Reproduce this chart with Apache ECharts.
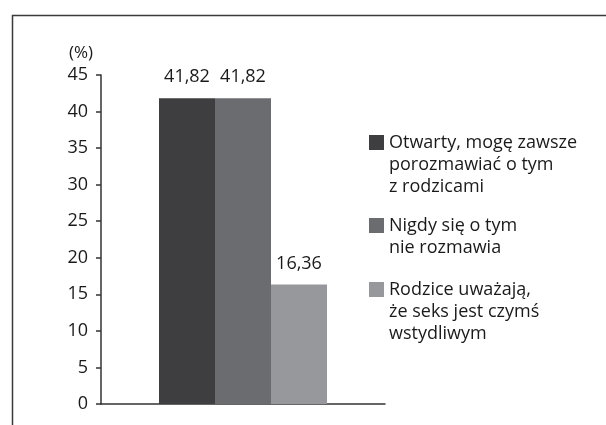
<!DOCTYPE html>
<html>
<head>
<meta charset="utf-8">
<script src="https://cdn.jsdelivr.net/npm/echarts@6/dist/echarts.min.js"></script>
<style>
  html, body { margin: 0; padding: 0; background: #fff; }
  #chart-main { width: 606px; height: 425px; }
</style>
</head>
<body>
<div id="chart-main"></div>
<script>
// dane
const seriesNames = [
  'Otwarty, mogę zawsze\nporozmawiać o tym\nz rodzicami',
  'Nigdy się o tym\nnie rozmawia',
  'Rodzice uważają,\nże seks jest czymś\nwstydliwym'
]
const seriesValues = [41.82, 41.82, 16.36]
const barColors = ['#3e3e40', '#6b6c70', '#97989c']
const categories = ['']

const font = 'Open Sans'
const lineH = 22
const legendTops = [87.5, 192.5, 234.5]

const chart = echarts.init(document.getElementById('chart-main'))

// jedna legenda na pozycję; puste linie na górze, żeby ikona stała przy pierwszej linii tekstu
const legends = seriesNames.map((name, i) => {
  const lines = name.split('\n').length
  return {
    orient: 'vertical',
    left: 369,
    top: legendTops[i],
    padding: 0,
    itemWidth: 15,
    itemHeight: 15,
    icon: 'rect',
    selectedMode: false,
    data: [name],
    formatter: (n) => ' \n'.repeat(lines - 1) + n,
    textStyle: {
      fontFamily: font,
      fontSize: 18,
      color: '#1a1a1a',
      lineHeight: lineH
    }
  }
})

chart.setOption({
  animation: false,
  textStyle: { fontFamily: font },
  graphic: [{
    type: 'rect',
    shape: { x: 12.5, y: 15.5, width: 700, height: 500 },
    style: { fill: 'none', stroke: '#3a3a3a', lineWidth: 1.5 },
    silent: true
  }],
  legend: legends,
  grid: { left: 101, right: 221, top: 75, bottom: 21, containLabel: false },
  xAxis: {
    type: 'category',
    data: categories,
    axisTick: { show: false },
    axisLabel: { show: false },
    axisLine: { lineStyle: { color: '#333', width: 1.5 } }
  },
  yAxis: {
    type: 'value',
    min: 0,
    max: 45,
    interval: 5,
    name: '(%)',
    nameLocation: 'end',
    nameGap: 13,
    nameTextStyle: { fontFamily: font, fontSize: 17, color: '#1a1a1a', align: 'right', padding: [0, 8, 0, 0] },
    splitLine: { show: false },
    axisLine: { show: true, lineStyle: { color: '#333', width: 1.5 } },
    axisTick: { show: true, inside: false, length: 5, lineStyle: { color: '#333', width: 1.5 } },
    axisLabel: { fontFamily: font, fontSize: 18, color: '#1a1a1a', margin: 13 }
  },
  series: seriesNames.map((name, i) => ({
    name: name,
    type: 'bar',
    barWidth: 56,
    barGap: '0%',
    data: [seriesValues[i]],
    itemStyle: { color: barColors[i] },
    label: {
      show: true,
      position: 'top',
      distance: 12,
      fontFamily: font,
      fontSize: 18,
      color: '#1a1a1a',
      formatter: (p) => p.value.toFixed(2).replace('.', ',')
    }
  }))
})
</script>
</body>
</html>
